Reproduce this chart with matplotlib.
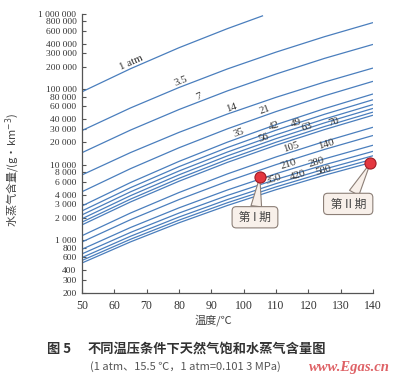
import numpy as np
import matplotlib
matplotlib.use('Agg')
import matplotlib.pyplot as plt

# ---------------- data ----------------
temps = [50, 65, 80, 95, 110, 125, 140]
temps_1atm = [50, 65, 80, 95, 106]

pressure_labels = ['1 atm', '3.5', '7', '14', '21', '35', '42', '49', '56',
                   '63', '70', '105', '140', '210', '280', '350', '420', '500']

w_1 = [93000, 188000, 357000, 640000, 950000]
w_3_5 = [28500, 56800, 106000, 187000, 312000, 500000, 769000]
w_7 = [14500, 28900, 54100, 95700, 160000, 258000, 395000]
w_14 = [7350, 14540, 26940, 47210, 78520, 125200, 192000]
w_21 = [4400, 8900, 16840, 30050, 50840, 82310, 128000]
w_35 = [2850, 5823, 11110, 20010, 34100, 55590, 87000]
w_42 = [2450, 4981, 9461, 16960, 28810, 46810, 73000]
w_49 = [2170, 4388, 8290, 14800, 25030, 40510, 63000]
w_56 = [1930, 3903, 7374, 13160, 22250, 36020, 56000]
w_63 = [1740, 3510, 6622, 11800, 19930, 32200, 50000]
w_70 = [1600, 3221, 6064, 10790, 18180, 29350, 45500]
w_105 = [1150, 2297, 4295, 7590, 12720, 20420, 31500]
w_140 = [950, 1874, 3463, 6057, 10060, 16010, 24500]
w_210 = [760, 1476, 2690, 4645, 7625, 12010, 18200]
w_280 = [660, 1270, 2294, 3930, 6404, 10020, 15100]
w_350 = [590, 1130, 2033, 3469, 5634, 8785, 13200]
w_420 = [540, 1031, 1849, 3148, 5099, 7935, 11900]
w_500 = [500, 952, 1705, 2896, 4685, 7280, 10900]

series = [w_1, w_3_5, w_7, w_14, w_21, w_35, w_42, w_49, w_56, w_63, w_70,
          w_105, w_140, w_210, w_280, w_350, w_420, w_500]

label_temps = [65.8, 81, 86.8, 96.7, 107, 98.9, 109.8, 116.9, 106.7, 120,
               128.3, 115, 125.9, 114.4, 123, 109.8, 117.2, 125.2]

ytick_vals = [200, 300, 400, 600, 800, 1000, 2000, 3000, 4000, 6000, 8000,
              10000, 20000, 30000, 40000, 60000, 80000, 100000, 200000,
              300000, 400000, 600000, 800000, 1000000]
ytick_labels = ['200', '300', '400', '600', '800', '1 000', '2 000', '3 000',
                '4 000', '6 000', '8 000', '10 000', '20 000', '30 000',
                '40 000', '60 000', '80 000', '100 000', '200 000', '300 000',
                '400 000', '600 000', '800 000', '1 000 000']
xtick_vals = [50, 60, 70, 80, 90, 100, 110, 120, 130, 140]

stage_labels = ['第 I 期', '第 II 期']
stage_T = [105, 139.2]
stage_W = [6900, 10600]

# ---------------- style ----------------
cjk = ['Noto Sans CJK SC', 'DejaVu Sans']
serif = ['Liberation Serif', 'DejaVu Serif']
line_color = '#4a7ebd'
axis_color = '#555555'
text_color = '#333333'

fig = plt.figure(figsize=(4.0, 3.78), dpi=100)
fig.patch.set_facecolor('white')
ax = fig.add_axes([0.205, 0.2249, 0.7275, 0.7381])

for i, w in enumerate(series):
    t = temps_1atm if i == 0 else temps
    ax.plot(t, w, color=line_color, lw=0.9, solid_capstyle='butt', zorder=2)

ax.set_yscale('log')
ax.set_xlim(50, 140)
ax.set_ylim(200, 1000000)
ax.set_yticks(ytick_vals)
ax.set_yticklabels(ytick_labels)
ax.yaxis.set_minor_locator(matplotlib.ticker.NullLocator())
ax.set_xticks(xtick_vals)
ax.set_xticklabels([str(v) for v in xtick_vals])

for s in ['top', 'right']:
    ax.spines[s].set_visible(False)
for s in ['left', 'bottom']:
    ax.spines[s].set_color(axis_color)
    ax.spines[s].set_linewidth(0.9)

ax.tick_params(axis='y', direction='in', length=3, width=0.8, color=axis_color,
               pad=4, labelsize=6.8, labelcolor=text_color)
ax.tick_params(axis='x', direction='in', length=3, width=0.8, color=axis_color,
               pad=5, labelsize=8.5, labelcolor=text_color)
for lab in ax.get_yticklabels() + ax.get_xticklabels():
    lab.set_family(serif)

ax.set_xlabel('温度/℃', family=cjk, fontsize=8, color='#444444')
ax.xaxis.set_label_coords(0.45, -0.075)
ax.set_ylabel('水蒸气含量/(g·km$^{-3}$)', family=cjk, fontsize=8, color='#444444')
ax.yaxis.set_label_coords(-0.205, 0.44)

# ---------------- curve labels ----------------
for i, (lab, tl) in enumerate(zip(pressure_labels, label_temps)):
    t = np.array(temps_1atm if i == 0 else temps, dtype=float)
    lw = np.log10(np.array(series[i], dtype=float))
    y0 = 10 ** np.interp(tl, t, lw)
    p1 = ax.transData.transform((tl - 2, 10 ** np.interp(tl - 2, t, lw)))
    p2 = ax.transData.transform((tl + 2, 10 ** np.interp(tl + 2, t, lw)))
    ang = np.degrees(np.arctan2(p2[1] - p1[1], p2[0] - p1[0]))
    off = 3.6
    dx = -np.sin(np.radians(ang)) * off
    dy = np.cos(np.radians(ang)) * off
    ax.annotate(lab, xy=(tl, y0), xytext=(dx, dy), textcoords='offset points',
                ha='center', va='center', rotation=ang, rotation_mode='anchor',
                fontsize=7.8, family=serif, color=text_color, zorder=3)

# ---------------- stage markers & callouts ----------------
box_fc = '#f8f0ea'
box_ec = '#8c7f77'
offsets = [(-3.5, -29), (-16, -29.5)]
for lab, t, w, off in zip(stage_labels, stage_T, stage_W, offsets):
    ax.annotate(' ' + lab + ' ', xy=(t, w), xytext=off, textcoords='offset points',
                ha='center', va='center', fontsize=8.5, family=cjk, color='#444444',
                bbox=dict(boxstyle='round,pad=0.35,rounding_size=0.35', fc=box_fc,
                          ec=box_ec, lw=0.8),
                arrowprops=dict(arrowstyle='wedge,tail_width=0.9', fc=box_fc,
                                ec=box_ec, lw=0.8, shrinkA=0, shrinkB=0),
                zorder=4, annotation_clip=False)
ax.plot(stage_T, stage_W, 'o', ms=8, mfc='#e4373f', mec='#9e1c24', mew=0.8,
        zorder=6, clip_on=False)

# ---------------- caption ----------------
fig.text(47 / 400, 1 - 349 / 378, '图 5', family=cjk, fontsize=9.5,
         fontweight='bold', color='#333333', ha='left', va='center')
fig.text(88 / 400, 1 - 349 / 378, '不同温压条件下天然气饱和水蒸气含量图', family=cjk,
         fontsize=9.5, fontweight='bold', color='#333333', ha='left', va='center')
fig.text(90 / 400, 1 - 367 / 378, '(1 atm、15.5 ℃，1 atm=0.101 3 MPa)', family=cjk,
         fontsize=8, color='#555555', ha='left', va='center')
fig.text(390 / 400, 1 - 367 / 378, 'www.Egas.cn', family=serif, fontsize=10.5,
         style='italic', fontweight='bold', color='#d9464b', alpha=0.85,
         ha='right', va='center')

fig.savefig('out.png', dpi=100, facecolor='white')
